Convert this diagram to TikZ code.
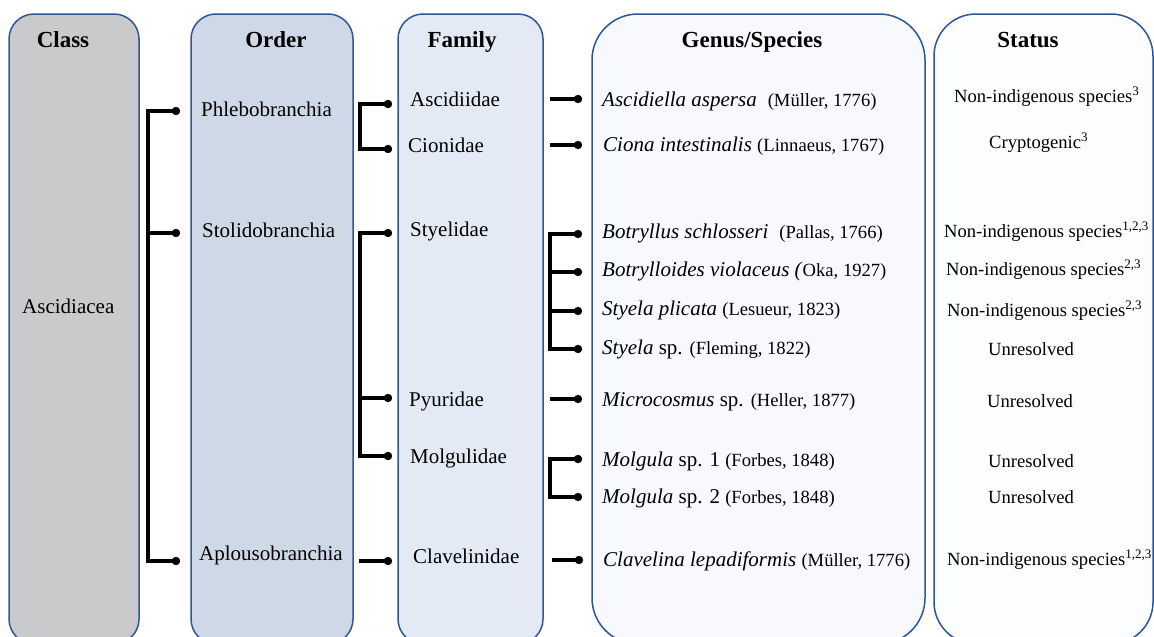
\documentclass[tikz,border=0pt]{standalone}
\usepackage{fontspec}
\setmainfont{Liberation Serif}
\usepackage{tikz}
\usepackage{xcolor}

\definecolor{boxline}{RGB}{47,85,151}
\definecolor{classfill}{RGB}{201,202,204}
\definecolor{orderfill}{RGB}{207,216,230}
\definecolor{familyfill}{RGB}{228,234,245}
\definecolor{genusfill}{RGB}{247,249,252}
\definecolor{statusfill}{RGB}{252,253,255}

% smaller upright text for the authorities
\newcommand{\authority}[1]{{\fontsize{18.6}{22}\selectfont #1}}

\begin{document}
\begin{tikzpicture}[x=1pt, y=-1pt,
		column/.style={draw=boxline, line width=1.5pt},
		header/.style={anchor=base, inner sep=0pt, font=\fontsize{23}{27}\selectfont\bfseries},
		taxon/.style={anchor=base west, inner sep=0pt, font=\fontsize{21}{25}\selectfont},
		status/.style={anchor=base west, inner sep=0pt, font=\fontsize{18.6}{22}\selectfont},
		link/.style={line width=3.2pt}]
			\useasboundingbox (0,0) rectangle (1154,637);

			% Column boxes (they run off the bottom of the page)
			\draw[column, fill=classfill, rounded corners=25pt] (9,14) rectangle (139,644);
			\draw[column, fill=orderfill, rounded corners=25pt] (191,14) rectangle (353,644);
			\draw[column, fill=familyfill, rounded corners=25pt] (398,14) rectangle (543,644);
			\draw[column, fill=genusfill, rounded corners=46pt] (592,14) rectangle (925,644);
			\draw[column, fill=statusfill, rounded corners=42pt] (934,14) rectangle (1153,644);

			% Headers
			\node[header] (h-class) at (63,47) {Class};
			\node[header] (h-order) at (276,47) {Order};
			\node[header] (h-family) at (462,47) {Family};
			\node[header] (h-genus) at (752,47) {Genus/Species};
			\node[header] (h-status) at (1028,47) {Status};

			% Class and orders
			\node[taxon] (ascidiacea) at (22,313) {Ascidiacea};
			\node[taxon] (phleb) at (201,116) {Phlebobranchia};
			\node[taxon] (stolid) at (202,237) {Stolidobranchia};
			\node[taxon] (aplous) at (199,560) {Aplousobranchia};

			% Families
			\node[taxon] (ascidiidae) at (410,106) {Ascidiidae};
			\node[taxon] (cionidae) at (408,152) {Cionidae};
			\node[taxon] (styelidae) at (410,236) {Styelidae};
			\node[taxon] (pyuridae) at (409,406) {Pyuridae};
			\node[taxon] (molgulidae) at (410,463) {Molgulidae};
			\node[taxon] (clavelinidae) at (413,563) {Clavelinidae};

			% Genus/species
			\node[taxon] (g-ascidiella) at (602,106) {\textit{Ascidiella aspersa}\hspace{11pt}\authority{(Müller, 1776)}};
			\node[taxon] (g-ciona) at (603,151) {\textit{Ciona intestinalis} \authority{(Linnaeus, 1767)}};
			\node[taxon] (g-botryllus) at (602,238) {\textit{Botryllus schlosseri}\hspace{11pt}\authority{(Pallas, 1766)}};
			\node[taxon] (g-botrylloides) at (602,276) {\textit{Botrylloides violaceus (}\authority{Oka, 1927)}};
			\node[taxon] (g-plicata) at (602,315) {\textit{Styela plicata} \authority{(Lesueur, 1823)}};
			\node[taxon] (g-styela) at (602,354) {\textit{Styela} sp. \authority{(Fleming, 1822)}};
			\node[taxon] (g-microcosmus) at (602,406) {\textit{Microcosmus} sp. \authority{(Heller, 1877)}};
			\node[taxon] (g-molgula1) at (602,466) {\textit{Molgula} sp. 1 \authority{(Forbes, 1848)}};
			\node[taxon] (g-molgula2) at (602,503) {\textit{Molgula} sp. 2 \authority{(Forbes, 1848)}};
			\node[taxon] (g-clavelina) at (603,566) {\textit{Clavelina lepadiformis} \authority{(Müller, 1776)}};

			% Status
			\node[status] (s-ascidiella) at (954,102) {Non-indigenous species\textsuperscript{3}};
			\node[status] (s-ciona) at (989,148) {Cryptogenic\textsuperscript{3}};
			\node[status] (s-botryllus) at (944,237) {Non-indigenous species\textsuperscript{1,2,3}};
			\node[status] (s-botrylloides) at (946,275) {Non-indigenous species\textsuperscript{2,3}};
			\node[status] (s-plicata) at (947,316) {Non-indigenous species\textsuperscript{2,3}};
			\node[status] (s-styela) at (988,355) {Unresolved};
			\node[status] (s-microcosmus) at (987,407) {Unresolved};
			\node[status] (s-molgula1) at (988,467) {Unresolved};
			\node[status] (s-molgula2) at (988,503) {Unresolved};
			\node[status] (s-clavelina) at (947,565) {Non-indigenous species\textsuperscript{1,2,3}};

			% Spines and dots of the brackets
			\coordinate (sp-class) at (148,0);
			\coordinate (sp-order) at (360,0);
			\coordinate (sp-aplous) at (359,0);
			\coordinate (sp-family) at (550,0);
			\coordinate (sp-clav) at (552,0);

			\coordinate (d-phleb) at (176,111);
			\coordinate (d-stolid) at (176,233);
			\coordinate (d-aplous) at (176,561);
			\coordinate (d-ascidiidae) at (388,104);
			\coordinate (d-cionidae) at (388,149);
			\coordinate (d-styelidae) at (388,233);
			\coordinate (d-pyuridae) at (388,398);
			\coordinate (d-molgulidae) at (388,456);
			\coordinate (d-clavelinidae) at (388,561);
			\coordinate (d-ascidiella) at (578,99);
			\coordinate (d-ciona) at (578,145);
			\coordinate (d-botryllus) at (578,234);
			\coordinate (d-botrylloides) at (578,272);
			\coordinate (d-plicata) at (578,311);
			\coordinate (d-styela) at (578,349);
			\coordinate (d-microcosmus) at (578,399);
			\coordinate (d-molgula1) at (578,459);
			\coordinate (d-molgula2) at (578,497);
			\coordinate (d-clavelina) at (579,560);

			% Macro for a bracket: first dot, spine, last dot.
			% Usage: \bracketlink{spine}{top dot}{bottom dot}
			\newcommand{\bracketlink}[3]{
				\draw[link] (#2) -- (#1 |- #2) -- (#1 |- #3) -- (#3);
			}
			% Macro for a single branch from a spine to a dot.
			% Usage: \branchlink{spine}{dot}
			\newcommand{\branchlink}[2]{
				\draw[link] (#1 |- #2) -- (#2);
			}

			\bracketlink{sp-class}{d-phleb}{d-aplous};
			\branchlink{sp-class}{d-stolid};

			\bracketlink{sp-order}{d-ascidiidae}{d-cionidae};
			\bracketlink{sp-order}{d-styelidae}{d-molgulidae};
			\branchlink{sp-order}{d-pyuridae};
			\branchlink{sp-aplous}{d-clavelinidae};

			\branchlink{sp-family}{d-ascidiella};
			\branchlink{sp-family}{d-ciona};
			\bracketlink{sp-family}{d-botryllus}{d-styela};
			\branchlink{sp-family}{d-botrylloides};
			\branchlink{sp-family}{d-plicata};
			\branchlink{sp-family}{d-microcosmus};
			\bracketlink{sp-family}{d-molgula1}{d-molgula2};
			\branchlink{sp-clav}{d-clavelina};

			\foreach \d in {d-phleb, d-stolid, d-aplous, d-ascidiidae, d-cionidae,
				d-styelidae, d-pyuridae, d-molgulidae, d-clavelinidae,
				d-ascidiella, d-ciona, d-botryllus, d-botrylloides, d-plicata,
				d-styela, d-microcosmus, d-molgula1, d-molgula2, d-clavelina}
				\fill (\d) circle (4.2pt);
		\end{tikzpicture}
\end{document}
